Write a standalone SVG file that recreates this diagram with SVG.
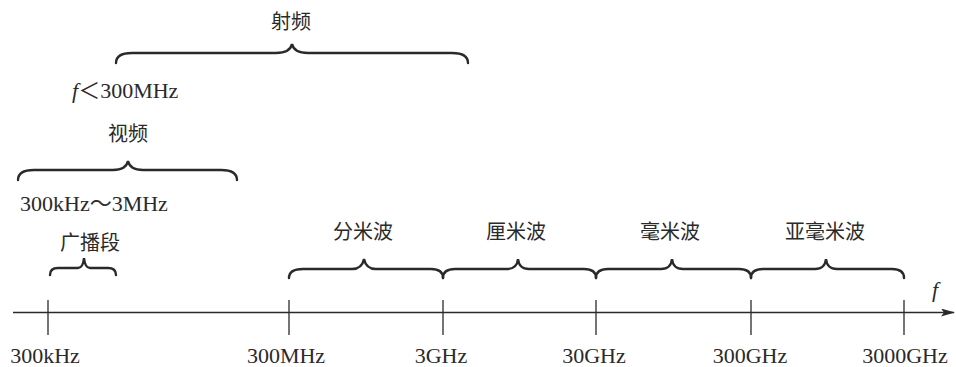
<svg xmlns="http://www.w3.org/2000/svg" width="956" height="367" viewBox="0 0 956 367">
<style>
.t{font-family:"Liberation Serif","Noto Sans CJK SC",serif;font-size:22px;fill:#2a2a2a}
.c{font-family:"Noto Sans CJK SC",sans-serif;font-size:20px;fill:#2a2a2a}
.br{fill:none;stroke:#2a2a2a;stroke-width:2.4;stroke-linecap:round}
.ax{fill:none;stroke:#2a2a2a;stroke-width:1.3}
</style>
<defs>
<marker id="ar" markerWidth="14" markerHeight="8" refX="13" refY="4" orient="auto" markerUnits="userSpaceOnUse">
<path d="M0,0 L14,4 L0,8 L3,4 Z" fill="#2a2a2a"/>
</marker>
</defs>
<rect width="956" height="367" fill="#fff"/>
<g id="connectors">
<line class="ax" x1="13" y1="312.500" x2="954" y2="312.500" marker-end="url(#ar)"/>
<line class="ax" x1="48" y1="300" x2="48" y2="335"/>
<line class="ax" x1="289" y1="300" x2="289" y2="335"/>
<line class="ax" x1="443" y1="300" x2="443" y2="335"/>
<line class="ax" x1="596" y1="300" x2="596" y2="335"/>
<line class="ax" x1="751" y1="300" x2="751" y2="335"/>
<line class="ax" x1="904" y1="300" x2="904" y2="335"/>
</g>
<g id="axis-labels">
<text class="t" x="45" y="363" text-anchor="middle">300kHz</text>
<text class="t" x="286" y="363" text-anchor="middle">300MHz</text>
<text class="t" x="441" y="363" text-anchor="middle">3GHz</text>
<text class="t" x="594" y="363" text-anchor="middle">30GHz</text>
<text class="t" x="750" y="363" text-anchor="middle">300GHz</text>
<text class="t" x="905" y="363" text-anchor="middle">3000GHz</text>
<text class="t" x="935" y="297" font-style="italic" text-anchor="middle">f</text>
</g>
<g id="shepin">
<path class="br" d="M116,63 Q116,53 132,53 L276,53 Q290,53 292,44 Q294,53 308,53 L452,53 Q468,53 468,63"/>
<text class="c" x="291" y="29" text-anchor="middle">射频</text>
</g>
<g id="f-limit">
<text class="t" x="72" y="98"><tspan font-style="italic">f</tspan>＜300MHz</text>
</g>
<g id="shipin">
<path class="br" d="M18,180 Q18,170 34,170 L113,170 Q126,170 128,161 Q130,170 143,170 L221,170 Q237,170 237,180"/>
<text class="c" x="128" y="141" text-anchor="middle">视频</text>
</g>
<g id="bc-range">
<text class="t" x="20" y="211">300kHz～3MHz</text>
</g>
<g id="guangbo">
<path class="br" d="M50,275 Q50,268 58,268 L78,268 Q83,268 84,258 Q85,268 90,268 L108,268 Q116,268 116,275"/>
<text class="c" x="90" y="250" text-anchor="middle">广播段</text>
</g>
<g id="fenmibo">
<path class="br" d="M289,278 Q289,269 303,269 L352,269 Q362,269 364,259 Q366,269 376,269 L431,269 Q443,269 443,278"/>
<text class="c" x="363" y="239" text-anchor="middle">分米波</text>
</g>
<g id="limibo">
<path class="br" d="M443,278 Q443,269 455,269 L507,269 Q517,269 518,259 Q519,269 529,269 L584,269 Q596,269 596,278"/>
<text class="c" x="516" y="239" text-anchor="middle">厘米波</text>
</g>
<g id="haomibo">
<path class="br" d="M596,278 Q596,269 608,269 L661,269 Q671,269 672,259 Q673,269 683,269 L739,269 Q751,269 751,278"/>
<text class="c" x="670" y="239" text-anchor="middle">毫米波</text>
</g>
<g id="yahaomibo">
<path class="br" d="M751,278 Q751,269 763,269 L815,269 Q825,269 826,259 Q827,269 837,269 L892,269 Q904,269 904,278"/>
<text class="c" x="825" y="239" text-anchor="middle">亚毫米波</text>
</g>
</svg>
